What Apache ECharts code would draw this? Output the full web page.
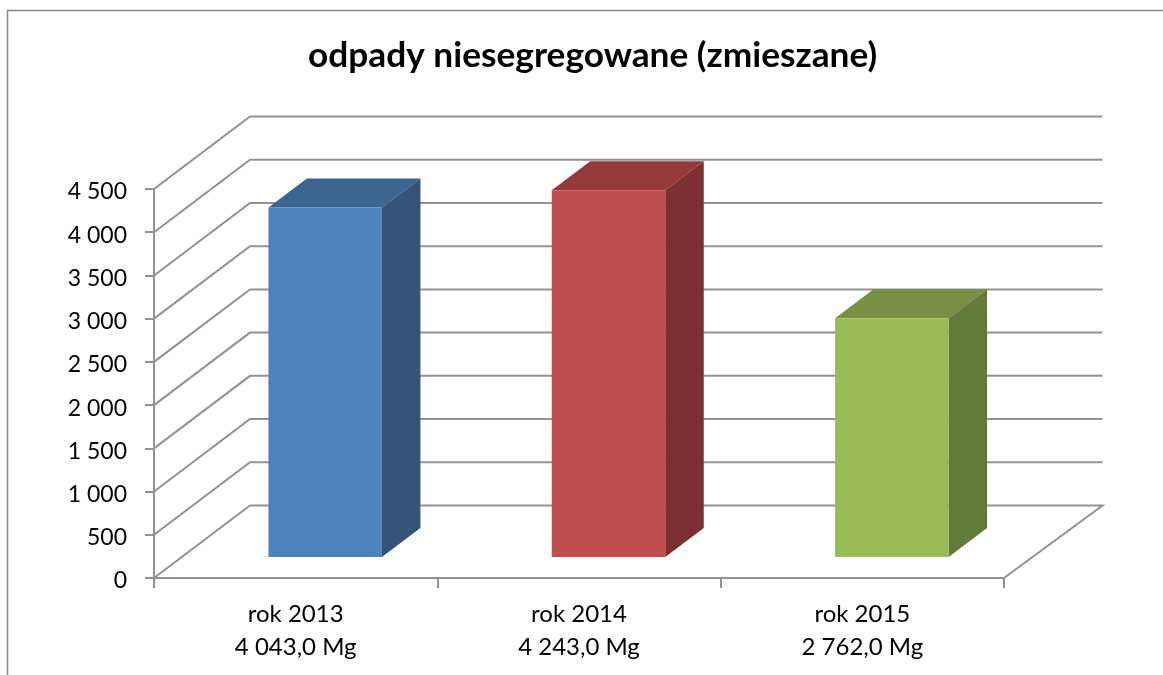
<!DOCTYPE html>
<html>
<head>
<meta charset="utf-8">
<title>odpady niesegregowane (zmieszane)</title>
<style>
    html, body { margin: 0; padding: 0; background: #fff; }
    #main { width: 1163px; height: 675px; }
</style>
<script src="https://cdn.jsdelivr.net/npm/echarts@6/dist/echarts.min.js"></script>
</head>
<body>
<div id="main"></div>
<script>
var chartTitle = "odpady niesegregowane (zmieszane)";
var categories = ["rok 2013\n4 043,0 Mg", "rok 2014\n4 243,0 Mg", "rok 2015\n2 762,0 Mg"];
var values = [4043, 4243, 2762];
var yTicks = [0, 500, 1000, 1500, 2000, 2500, 3000, 3500, 4000, 4500];
var yTickLabels = ["0", "500", "1 000", "1 500", "2 000", "2 500", "3 000", "3 500", "4 000", "4 500"];

// kolory: przód, góra, bok
var barColors = [
    ["#4f81bd", "#3e6491", "#335379"],
    ["#c0504d", "#943b39", "#7b2f2e"],
    ["#9bbb59", "#788f44", "#647a39"]
];
var gridColor = "#929292";
var fontName = "Lato, 'Open Sans', sans-serif";

// przesunięcie ściany tylnej i słupka względem przedniej krawędzi
var wallDx = 96, wallRightDx = 98.5, wallDy = -72.5;
var barDx = 29.5, barDy = -21;
var depthDx = 38.5, depthDy = -29;
var barWidth = 113.5;

function renderWall(params, api) {
    var p = api.coord([0, api.value(0)]);
    var rect = params.coordSys;
    var left = rect.x;
    var right = rect.x + rect.width;
    var points = [[left, p[1]], [left + wallDx, p[1] + wallDy], [right + wallRightDx, p[1] + wallDy]];
    if (api.value(0) === 0) {
        // podłoga ma jeszcze prawą krawędź
        points.push([right, p[1]]);
    }
    return {
        type: "polyline",
        shape: {points: points},
        style: {fill: null, stroke: gridColor, lineWidth: 2}
    };
}

function renderBar(params, api) {
    var idx = api.value(0);
    var top = api.coord([idx, api.value(1)]);
    var base = api.coord([idx, 0]);
    var c = barColors[idx];
    var x0 = top[0] + barDx - barWidth / 2;
    var x1 = x0 + barWidth;
    var y0 = top[1] + barDy;
    var y1 = base[1] + barDy;
    return {
        type: "group",
        children: [
            {
                type: "polygon",
                shape: {points: [[x0, y0], [x0 + depthDx, y0 + depthDy], [x1 + depthDx, y0 + depthDy], [x1, y0]]},
                style: {fill: c[1]}
            },
            {
                type: "polygon",
                shape: {points: [[x1, y0], [x1 + depthDx, y0 + depthDy], [x1 + depthDx, y1 + depthDy], [x1, y1]]},
                style: {fill: c[2]}
            },
            {
                type: "rect",
                shape: {x: x0, y: y0, width: barWidth, height: y1 - y0},
                style: {fill: c[0]}
            }
        ]
    };
}

var myChart = echarts.init(document.getElementById("main"));
var option = {
    animation: false,
    backgroundColor: "#fff",
    title: {
        text: chartTitle,
        left: 303,
        top: 33,
        textStyle: {fontFamily: fontName, fontSize: 35.25, fontWeight: "bold", color: "#000"}
    },
    // ramka wykresu
    graphic: [{
        type: "polyline",
        shape: {points: [[7.5, 675], [7.5, 10.5], [1163, 10.5]]},
        style: {fill: null, stroke: "#868686", lineWidth: 1.5}
    }],
    grid: {left: 154, right: 159, top: 189, bottom: 97},
    xAxis: {
        type: "category",
        data: categories,
        axisLine: {lineStyle: {color: gridColor, width: 2}},
        axisTick: {show: true, length: 10, lineStyle: {color: gridColor, width: 2}},
        axisLabel: {
            fontFamily: fontName, fontSize: 24, color: "#000",
            lineHeight: 33, margin: 20, interval: 0
        }
    },
    yAxis: {
        type: "value",
        min: 0,
        max: 4500,
        interval: 500,
        splitLine: {show: false},
        axisLine: {show: true, lineStyle: {color: gridColor, width: 2}},
        axisTick: {show: true, length: 9, lineStyle: {color: gridColor, width: 2}},
        axisLabel: {
            fontFamily: fontName, fontSize: 23, color: "#000", margin: 27,
            verticalAlign: "top", lineHeight: 6,
            formatter: function (val) {
                return yTickLabels[yTicks.indexOf(val)];
            }
        }
    },
    series: [
        {
            type: "custom",
            renderItem: renderWall,
            data: yTicks.map(function (v) { return [v]; }),
            encode: {y: 0},
            z: 1,
            silent: true
        },
        {
            type: "custom",
            renderItem: renderBar,
            data: values.map(function (v, i) { return [i, v]; }),
            encode: {x: 0, y: 1},
            z: 2
        }
    ]
};

myChart.setOption(option);
</script>
</body>
</html>
